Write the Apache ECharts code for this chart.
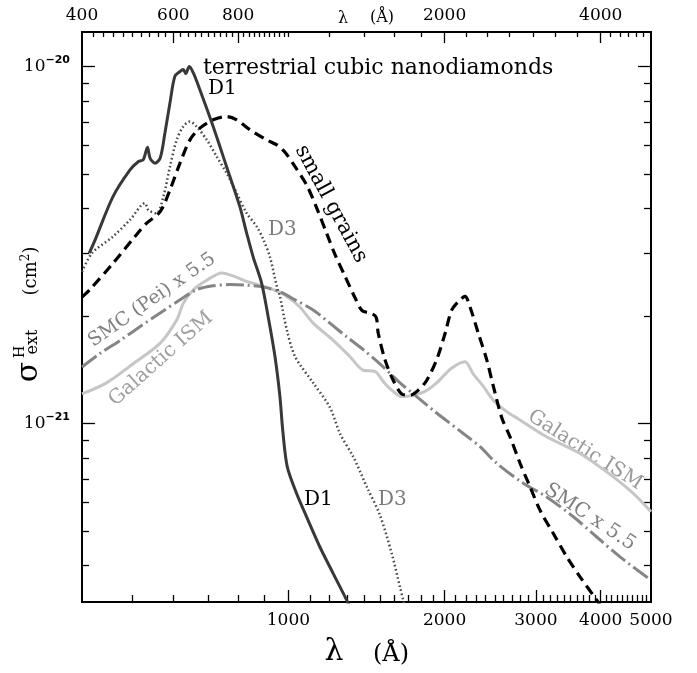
<!DOCTYPE html>
<html><head><meta charset="utf-8">
<script src="https://cdn.jsdelivr.net/npm/echarts@6/dist/echarts.min.js"></script>
<style>html,body{margin:0;padding:0;background:#fff}#c{width:697px;height:673px}</style>
</head><body><div id="c"></div>
<script>
// wavelength in Angstrom; extinction cross section in units of 1e-21 cm^2
const d1Lambda = [413, 424, 459, 495, 514, 525, 535, 541, 553, 566, 578, 591, 604, 618, 627, 634, 644, 656, 675, 716, 760, 806, 831, 855, 888, 914, 942, 963, 975, 995, 1037, 1084, 1150, 1220, 1295, 1320];
const d1Sigma  = [3.00, 3.27, 4.32, 5.13, 5.42, 5.48, 5.94, 5.54, 5.36, 5.54, 6.51, 7.90, 9.38, 9.68, 9.80, 9.55, 10.0, 9.58, 8.61, 6.79, 5.24, 4.05, 3.41, 2.93, 2.47, 1.99, 1.54, 1.19, 0.958, 0.756, 0.637, 0.548, 0.451, 0.380, 0.320, 0.300];

const d3Lambda = [400, 418, 459, 495, 529, 537, 557, 574, 591, 609, 627, 646, 665, 696, 727, 760, 795, 831, 869, 895, 921, 950, 963, 993, 1030, 1116, 1202, 1257, 1334, 1416, 1501, 1582, 1641, 1665, 1672];
const d3Sigma  = [2.66, 3.00, 3.34, 3.72, 4.14, 3.96, 3.88, 4.32, 5.24, 6.23, 6.79, 7.01, 6.79, 6.23, 5.60, 5.03, 4.42, 3.88, 3.56, 3.27, 2.93, 2.42, 2.27, 1.83, 1.54, 1.30, 1.11, 0.938, 0.806, 0.665, 0.554, 0.432, 0.348, 0.320, 0.310];

const grainLambda = [400, 414, 459, 506, 533, 566, 591, 618, 646, 675, 716, 760, 795, 843, 908, 950, 985, 1030, 1084, 1134, 1185, 1230, 1285, 1344, 1387, 1436, 1475, 1490, 1535, 1593, 1654, 1716, 1780, 1847, 1931, 2005, 2065, 2142, 2190, 2239, 2323, 2411, 2484, 2577, 2674, 2796, 2923, 3055, 3241, 3441, 3649, 3930, 3988];
const grainSigma  = [2.26, 2.37, 2.81, 3.34, 3.64, 3.92, 4.51, 5.36, 6.23, 6.72, 7.09, 7.24, 7.09, 6.65, 6.23, 6.03, 5.75, 5.24, 4.66, 4.01, 3.41, 2.97, 2.59, 2.25, 2.07, 2.04, 1.99, 1.79, 1.51, 1.32, 1.21, 1.20, 1.24, 1.32, 1.51, 1.79, 2.08, 2.22, 2.27, 2.12, 1.79, 1.51, 1.27, 1.04, 0.918, 0.774, 0.665, 0.572, 0.492, 0.423, 0.372, 0.320, 0.310];

const ismLambda = [400, 446, 502, 566, 609, 627, 656, 696, 744, 789, 831, 881, 935, 993, 1052, 1116, 1220, 1314, 1394, 1468, 1524, 1582, 1654, 1741, 1833, 1931, 2065, 2190, 2269, 2376, 2484, 2635, 2775, 3146, 3649, 4230, 4622, 5000];
const ismSigma  = [1.21, 1.30, 1.47, 1.68, 1.95, 2.17, 2.37, 2.52, 2.64, 2.58, 2.50, 2.44, 2.37, 2.27, 2.12, 1.91, 1.71, 1.54, 1.41, 1.40, 1.31, 1.24, 1.19, 1.20, 1.23, 1.30, 1.43, 1.49, 1.38, 1.27, 1.16, 1.08, 1.03, 0.918, 0.824, 0.709, 0.637, 0.566];

const smcLambda = [400, 433, 474, 518, 566, 618, 665, 716, 771, 831, 895, 963, 1030, 1116, 1202, 1295, 1394, 1501, 1641, 1767, 1931, 2173, 2341, 2520, 2837, 3146, 3543, 3930, 4358, 5000];
const smcSigma  = [1.44, 1.57, 1.71, 1.87, 2.04, 2.22, 2.37, 2.43, 2.45, 2.44, 2.41, 2.34, 2.22, 2.08, 1.91, 1.75, 1.61, 1.47, 1.30, 1.19, 1.07, 0.938, 0.861, 0.774, 0.680, 0.623, 0.548, 0.481, 0.423, 0.364];

// axis ticks and labels
const bottomLabels = [1000, 2000, 3000, 4000, 5000];
const bottomMajorTicks = [1000, 2000, 3000, 4000];
const bottomMinorTicks = [500, 600, 700, 800, 900, 1100, 1200, 1300, 1400, 1500, 1600, 1700, 1800, 1900, 2100, 2200, 2300, 2400, 2500, 2600, 2700, 2800, 2900, 3100, 3200, 3300, 3400, 3500, 3600, 3700, 3800, 3900, 4100, 4200, 4300, 4400, 4500, 4600, 4700, 4800, 4900];
const topLabels = [400, 600, 800, 2000, 4000];
const topMajorTicks = [600, 800, 2000, 4000];
const topMinorTicks = [420, 440, 460, 480, 500, 520, 540, 560, 580, 620, 640, 660, 680, 700, 720, 740, 760, 780, 820, 840, 860, 880, 900, 920, 940, 960, 980, 1000, 1200, 1400, 1600, 1800, 2200, 2420, 2670, 2960, 3270, 3600, 4170, 4360, 4520, 4690, 4840];
const yLabels = [1, 10];
const yMajorTicks = [1, 10];
const yMinorTicks = [0.4, 0.5, 0.6, 0.7, 0.8, 0.9, 2, 3, 4, 5, 6, 7, 8, 9];

const FONT = 'DejaVu Serif';
const zip = (a, b) => a.map((v, i) => [v, b[i]]);
const chart = echarts.init(document.getElementById('c'), null, {renderer: 'canvas'});

function xAx(pos, ticks, len, labels) {
  return {
    type: 'log', logBase: 10, min: 400, max: 5000, position: pos,
    axisLine: {show: true, onZero: false, lineStyle: {color: '#000', width: 2}},
    axisTick: {show: true, inside: true, length: len, customValues: ticks, lineStyle: {color: '#000', width: 1.3}},
    axisLabel: labels ? {show: true, customValues: labels, formatter: v => String(Math.round(v)),
      fontFamily: FONT, fontSize: 17, color: '#000', margin: pos === 'top' ? 8 : 10} : {show: false},
    splitLine: {show: false}, minorTick: {show: false}, minorSplitLine: {show: false}
  };
}
function yAx(pos, ticks, len, labels) {
  return {
    type: 'log', logBase: 10, min: 0.3163, max: 12.49, position: pos,
    axisLine: {show: true, onZero: false, lineStyle: {color: '#000', width: 2}},
    axisTick: {show: true, inside: true, length: len, customValues: ticks, lineStyle: {color: '#000', width: 1.3}},
    axisLabel: labels ? {show: true, customValues: labels, margin: 12,
      formatter: v => Math.round(v) === 10 ? '{n|10}{s|\u221220}' : '{n|10}{s|\u221221}',
      rich: {n: {fontFamily: FONT, fontSize: 17, color: '#000'},
             s: {fontFamily: 'DejaVu Sans', fontWeight: 'bold', fontSize: 11, color: '#000', padding: [0, 0, 12, 0]}}} : {show: false},
    splitLine: {show: false}, minorTick: {show: false}, minorSplitLine: {show: false}
  };
}

function line(name, lam, sig, color, width, type) {
  return {
    name, type: 'line', xAxisIndex: 0, yAxisIndex: 0, data: zip(lam, sig),
    showSymbol: false, symbol: 'none', smooth: 0.3, clip: true,
    lineStyle: {color, width, type, cap: 'butt'}, silent: true
  };
}

function txt(text, x, y, size, color, rot, align) {
  return {type: 'text', x, y, rotation: (rot || 0) * Math.PI / 180, silent: true,
    style: {text, fontFamily: FONT, fontSize: size, fill: color, align: align || 'center', verticalAlign: 'middle'}};
}

chart.setOption({
  animation: false,
  backgroundColor: '#fff',
  grid: {left: 82, right: 46, top: 32, bottom: 71, containLabel: false},
  xAxis: [
    xAx('bottom', bottomMajorTicks, 12, bottomLabels),
    xAx('bottom', bottomMinorTicks, 7, null),
    xAx('top', topMajorTicks, 11, topLabels),
    xAx('top', topMinorTicks, 5, null)
  ],
  yAxis: [
    yAx('left', yMajorTicks, 13, yLabels),
    yAx('left', yMinorTicks, 7, null),
    yAx('right', yMajorTicks, 13, null),
    yAx('right', yMinorTicks, 7, null)
  ],
  series: [
    line('Galactic ISM', ismLambda, ismSigma, '#c6c6c6', 3, 'solid'),
    line('SMC x 5.5', smcLambda, smcSigma, '#858585', 3, [18, 4, 2, 4]),
    line('D3', d3Lambda, d3Sigma, '#4a4a4a', 2.5, [1.6, 2.6]),
    line('D1', d1Lambda, d1Sigma, '#383838', 3, 'solid'),
    line('small grains', grainLambda, grainSigma, '#000', 3.2, [10, 6])
  ],
  graphic: [
    txt('terrestrial cubic nanodiamonds', 203, 68, 22, '#000', 0, 'left'),
    txt('D1', 208, 88.5, 20, '#000', 0, 'left'),
    txt('D3', 268, 230, 20, '#7a7a7a', 0, 'left'),
    txt('D1', 304, 499.5, 20, '#000', 0, 'left'),
    txt('D3', 378, 499.5, 20, '#7a7a7a', 0, 'left'),
    txt('small grains', 331, 204, 21, '#000', -61.6),
    txt('SMC (Pei) x 5.5', 152, 300, 19, '#808080', 35),
    txt('Galactic ISM', 161, 359, 20, '#a0a0a0', 41.6),
    txt('Galactic ISM', 585, 450, 20, '#9a9a9a', -32.5),
    txt('SMC x 5.5', 590, 517, 20, '#808080', -33.6),
    txt('\u03bb', 343, 19, 16, '#000'),
    txt('(\u00c5)', 382, 18, 16, '#000'),
    txt('\u03bb', 334, 652, 30, '#000'),
    txt('(\u00c5)', 391, 655, 24, '#000'),
    txt('\u03c3', 29, 372, 30, '#000', 90),
    txt('H', 20, 352, 14, '#000', 90),
    txt('ext', 33, 342, 16, '#000', 90),
    {type: 'text', x: 31, y: 271, rotation: Math.PI / 2, silent: true,
     style: {text: '{a|(cm}{b|2}{a|)}', align: 'center', verticalAlign: 'middle',
       rich: {a: {fontFamily: FONT, fontSize: 18, fill: '#000'},
              b: {fontFamily: FONT, fontSize: 12, fill: '#000', padding: [0, 0, 10, 0]}}}}
  ]
});
</script></body></html>
